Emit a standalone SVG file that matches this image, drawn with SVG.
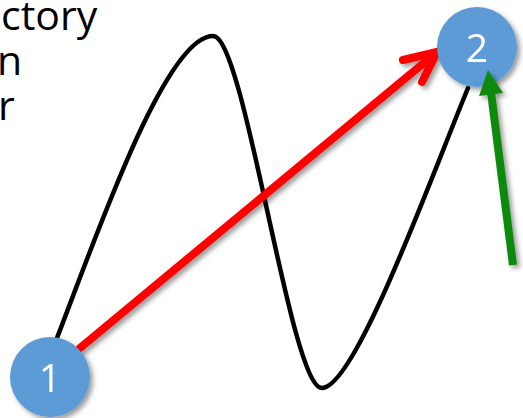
<svg xmlns="http://www.w3.org/2000/svg" width="523" height="418" viewBox="0 0 523 418">
<style>
.lbl{font-family:"Open Sans","Liberation Sans",sans-serif;font-size:41px;fill:#000}
.num{font-family:"Open Sans","Liberation Sans",sans-serif;font-size:39px;fill:#fff;text-anchor:middle}
.node{fill:#5B9BD5}
.curve{fill:none;stroke:#000;stroke-width:4.5;stroke-linecap:round}
.red{fill:none;stroke:#ff0000;stroke-width:8;stroke-linecap:round;stroke-linejoin:round}
.green{stroke:#0a8a0a;stroke-width:8;fill:none}
</style>
<defs>
<filter id="sh" x="-30%" y="-30%" width="160%" height="160%">
<feDropShadow dx="3" dy="3" stdDeviation="2.5" flood-color="#000" flood-opacity="0.4"/>
</filter>
</defs>
<rect width="523" height="418" fill="#fff"/>
<g id="text">
<text class="lbl" x="1" y="30">ctory</text>
<text class="lbl" x="-3" y="75">n</text>
<text class="lbl" x="-2" y="120">r</text>
</g>
<g id="connectors">
<path id="trajectory" class="curve" d="M57,338 C95,240 165,36 213,36 C245,36 290,388 322,388 C355,388 430,180 468,88"/>
<g id="red-arrow" filter="url(#sh)">
<path class="red" d="M80,348 L437,52 M403,60 L437,52 L422,82"/>
</g>
</g>
<g id="node1" filter="url(#sh)">
<circle class="node" cx="50" cy="377" r="40"/>
<text class="num" x="50" y="392">1</text>
</g>
<g id="node2" filter="url(#sh)">
<circle class="node" cx="477" cy="47" r="40"/>
<text class="num" x="477" y="62">2</text>
</g>
<g id="green-arrow" filter="url(#sh)">
<line class="green" x1="513" y1="265" x2="491" y2="92"/>
<polygon points="488,70 479,96 503,93" fill="#0a8a0a"/>
</g>
</svg>
